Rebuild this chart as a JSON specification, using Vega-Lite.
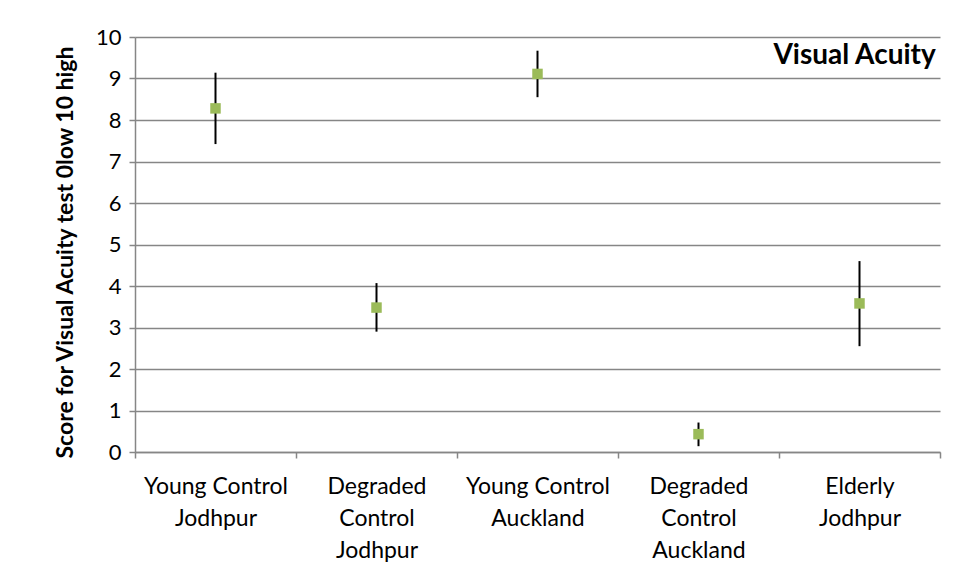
{
  "$schema": "https://vega.github.io/schema/vega-lite/v6.json",
  "width": 805,
  "height": 415,
  "autosize": {"type": "none"},
  "padding": {"left": 135, "top": 37, "right": 19, "bottom": 126},
  "background": "white",
  "title": {
    "text": "Visual Acuity",
    "anchor": "end",
    "orient": "top",
    "offset": -44,
    "font": "Lato",
    "fontSize": 28,
    "fontWeight": "bold",
    "color": "#000000",
    "dx": -5
  },
  "data": {
    "values": [
      {"group": "Young Control Jodhpur", "score": 8.28, "low": 7.42, "high": 9.14},
      {"group": "Degraded Control Jodhpur", "score": 3.48, "low": 2.9, "high": 4.07},
      {"group": "Young Control Auckland", "score": 9.11, "low": 8.55, "high": 9.67},
      {"group": "Degraded Control Auckland", "score": 0.43, "low": 0.14, "high": 0.71},
      {"group": "Elderly Jodhpur", "score": 3.58, "low": 2.55, "high": 4.6}
    ]
  },
  "encoding": {
    "x": {
      "field": "group",
      "type": "nominal",
      "sort": null,
      "scale": {"paddingInner": 0, "paddingOuter": 0},
      "axis": {
        "title": null,
        "labelAngle": 0,
        "labelFont": "Lato",
        "labelFontSize": 23,
        "labelColor": "#000000",
        "labelLineHeight": 32,
        "labelPadding": 17,
        "labelLimit": 0,
        "tickBand": "extent",
        "tickSize": 6,
        "tickColor": "#868686",
        "tickWidth": 1.5,
        "domainColor": "#868686",
        "domainWidth": 1.5,
        "grid": false,
        "labelExpr": "datum.value == 'Young Control Jodhpur' ? ['Young Control', 'Jodhpur'] : datum.value == 'Degraded Control Jodhpur' ? ['Degraded', 'Control', 'Jodhpur'] : datum.value == 'Young Control Auckland' ? ['Young Control', 'Auckland'] : datum.value == 'Degraded Control Auckland' ? ['Degraded', 'Control', 'Auckland'] : datum.value == 'Elderly Jodhpur' ? ['Elderly', 'Jodhpur'] : ''"
      }
    }
  },
  "layer": [
    {
      "mark": {"type": "rule", "color": "#000000", "strokeWidth": 2},
      "encoding": {
        "y": {
          "field": "low",
          "type": "quantitative",
          "scale": {"domain": [0, 10], "nice": false},
          "axis": {
            "title": "Score for Visual Acuity test 0low 10 high",
            "titleFont": "Lato",
            "titleFontSize": 23,
            "titleFontWeight": "bold",
            "titleColor": "#000000",
            "titlePadding": 18,
            "titleY": 215,
            "values": [0, 1, 2, 3, 4, 5, 6, 7, 8, 9, 10],
            "labelFont": "Lato",
            "labelFontSize": 22,
            "labelColor": "#000000",
            "labelPadding": 8,
            "tickSize": 6,
            "tickColor": "#868686",
            "tickWidth": 1.5,
            "domainColor": "#868686",
            "domainWidth": 1.5,
            "grid": true,
            "gridColor": "#868686",
            "gridWidth": 1.5,
            "gridOpacity": 1
          }
        },
        "y2": {"field": "high"}
      }
    },
    {
      "mark": {"type": "point", "shape": "square", "filled": true, "color": "#9BBB59", "size": 110, "opacity": 1},
      "encoding": {
        "y": {"field": "score", "type": "quantitative"}
      }
    }
  ],
  "config": {
    "view": {"stroke": null}
  }
}
